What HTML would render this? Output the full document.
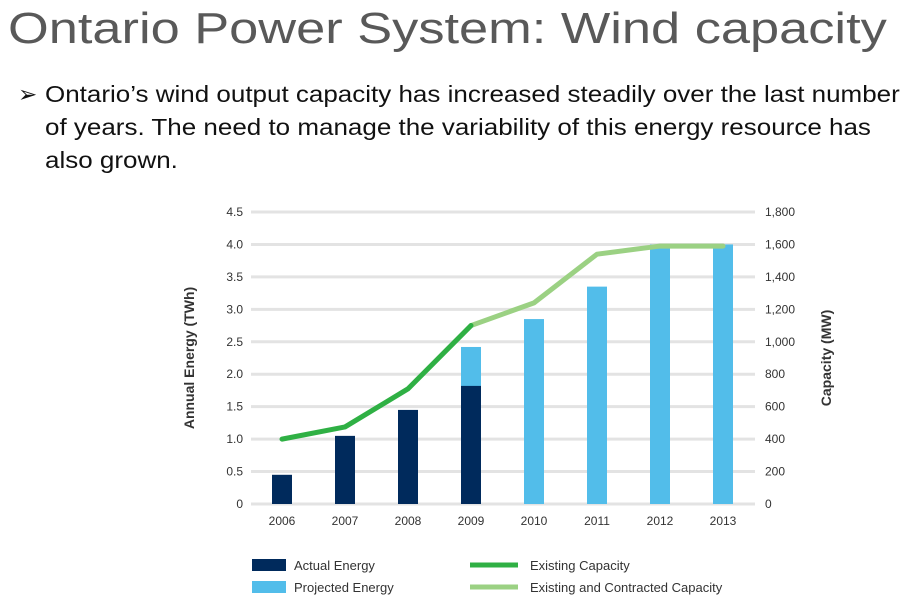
<!DOCTYPE html>
<html><head><meta charset="utf-8"><style>
body{margin:0;width:919px;height:598px;background:#fff;overflow:hidden;font-family:"Liberation Sans",sans-serif;position:relative}
#title{position:absolute;left:8px;top:4px;font-size:44px;color:#595959;white-space:nowrap;transform:scaleX(1.19);transform-origin:0 0}
#bullet{position:absolute;left:18px;top:78px;font-size:23px;line-height:33px;color:#111;white-space:nowrap}
#bullet .a{position:absolute;left:0;top:0}
#bullet .t{margin-left:27px;transform:scaleX(1.13);transform-origin:0 0}
svg{position:absolute;left:0;top:0}
</style></head><body>
<div id="title">Ontario Power System: Wind capacity</div>
<div id="bullet"><span class="a">➢</span><div class="t">Ontario’s wind output capacity has increased steadily over the last number<br>of years. The need to manage the variability of this energy resource has<br>also grown.</div></div>
<svg id="chart" width="919" height="598"></svg>
<script>
const years=['2006','2007','2008','2009','2010','2011','2012','2013'];
const actualEnergy=[0.45,1.05,1.45,1.82,0,0,0,0];
const projectedEnergy=[0,0,0,2.42,2.85,3.35,4.0,4.0];
const existingCap=[400,475,710,1100,null,null,null,null];
const contractedCap=[null,null,null,1100,1240,1540,1590,1590];
const leftTicks=['0','0.5','1.0','1.5','2.0','2.5','3.0','3.5','4.0','4.5'];
const rightTicks=['0','200','400','600','800','1,000','1,200','1,400','1,600','1,800'];
const NS='http://www.w3.org/2000/svg',svg=document.getElementById('chart');
const y0=504,yTop=212,xL=251,xR=755;
const yE=v=>y0-(v/4.5)*(y0-yTop);
const yC=v=>y0-(v/1800)*(y0-yTop);
const xB=i=>282+i*63;
function el(t,a,p){const e=document.createElementNS(NS,t);for(const k in a)e.setAttribute(k,a[k]);(p||svg).appendChild(e);return e;}
const F='"Liberation Sans Narrow","Liberation Sans",sans-serif';
leftTicks.forEach((s,i)=>{const y=yE(i*0.5);
const g=el('line',{x1:xL,x2:xR,y1:y,y2:y,stroke:'#e3e3e3','stroke-width':3});


const t=el('text',{x:243,y:y+4,'text-anchor':'end','font-size':12,fill:'#333','font-family':F});t.textContent=s;


const r=el('text',{x:765,y:y+4,'font-size':12,fill:'#333','font-family':F});r.textContent=rightTicks[i];

});
years.forEach((yr,i)=>{const x=xB(i);
if(projectedEnergy[i]>0){const b=el('rect',{x:x-10,y:yE(projectedEnergy[i]),width:20,height:y0-yE(projectedEnergy[i]),fill:'#52bdea'});

}
if(actualEnergy[i]>0){const b=el('rect',{x:x-10,y:yE(actualEnergy[i]),width:20,height:y0-yE(actualEnergy[i]),fill:'#002a5c'});

}
const t=el('text',{x:x,y:525,'text-anchor':'middle','font-size':12,fill:'#333','font-family':F});t.textContent=yr;

});
function line(arr,col,name){const pts=[];arr.forEach((v,i)=>{if(v!=null)pts.push(xB(i)+','+yC(v));});
const p=el('polyline',{points:pts.join(' '),fill:'none',stroke:col,'stroke-width':5,'stroke-linecap':'round','stroke-linejoin':'round'});

}
line(contractedCap,'#9bd183','line-contracted-capacity');
line(existingCap,'#2fb044','line-existing-capacity');
const ly=el('text',{x:0,y:0,transform:'translate(194,358) rotate(-90)','text-anchor':'middle','font-size':14,'font-weight':'bold',fill:'#333','font-family':F});ly.textContent='Annual Energy (TWh)';


const ry=el('text',{x:0,y:0,transform:'translate(831,358) rotate(-90)','text-anchor':'middle','font-size':14,'font-weight':'bold',fill:'#333','font-family':F});ry.textContent='Capacity (MW)';


const legend=[['rect','#002a5c','Actual Energy',252,565],['rect','#52bdea','Projected Energy',252,587],['line','#2fb044','Existing Capacity',470,565],['line','#9bd183','Existing and Contracted Capacity',470,587]];
legend.forEach(l=>{let m;
if(l[0]=='rect')m=el('rect',{x:l[3],y:l[4]-6,width:34,height:12,fill:l[1]});
else m=el('line',{x1:l[3],x2:l[3]+48,y1:l[4],y2:l[4],stroke:l[1],'stroke-width':5});


const t=el('text',{x:l[0]=='rect'?l[3]+42:l[3]+60,y:l[4]+5,'font-size':13,fill:'#333','font-family':F});t.textContent=l[2];

});
</script>
</body></html>
